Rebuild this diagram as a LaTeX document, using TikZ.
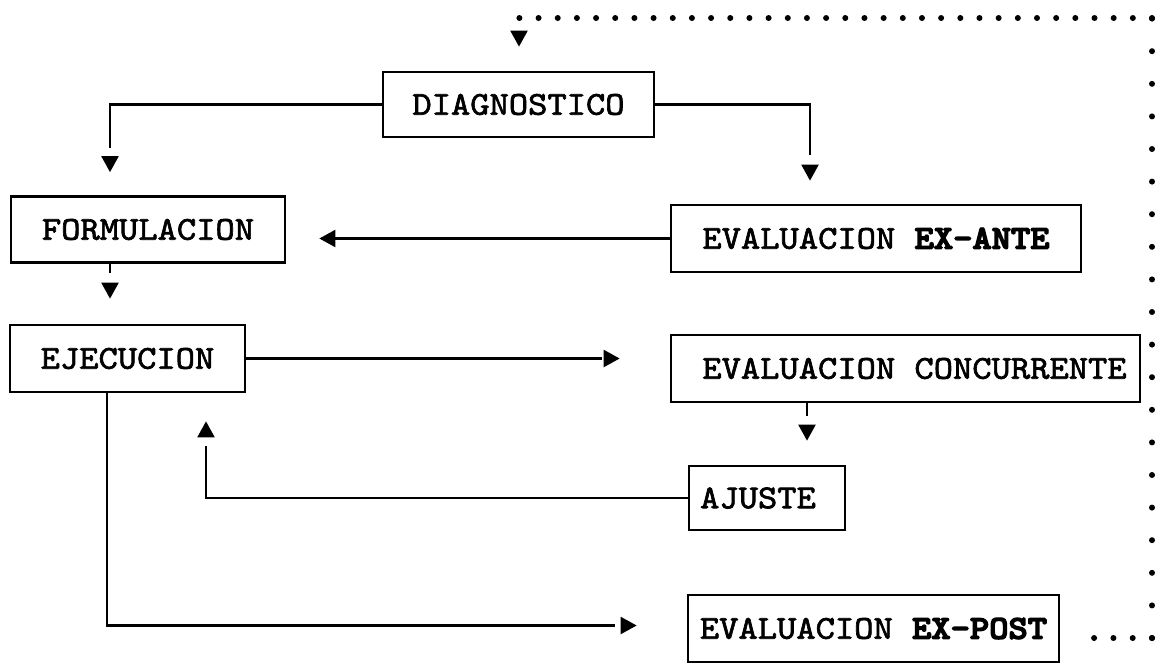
\documentclass[tikz,border=0pt]{standalone}
\usepackage{fontspec}
\usetikzlibrary{arrows.meta}
% typewriter faces for the box labels
\newfontface\twreg{lmmono10-regular.otf}[FakeStretch=1.1,FakeBold=2]
\newfontface\twbold{lmmonolt10-bold.otf}[FakeStretch=1.1,FakeBold=4]
\begin{document}
\begin{tikzpicture}[x=0.5pt,y=-0.5pt,
  box/.style={draw, line width=1.35pt, inner sep=0pt, align=center,
    font={\fontsize{16.7pt}{18pt}\selectfont\twreg}},
  wire/.style={line width=1.1pt},
  % #1: distance of the tip from its target, #2: end of the line before the tip
  arr/.style 2 args={wire, draw=white,
    -{Triangle[length=8pt,width=8.5pt,color=black]}, shorten >=#1,
    postaction={draw=black, arrows=-, shorten >=#2}},
  tiponly/.style={wire, -{Triangle[length=8pt,width=8.5pt]}},
  dotrow/.style={line width=3pt, line cap=round, dash pattern=on 0pt off 9.65pt},
  dottop/.style={line width=3pt, line cap=round, dash pattern=on 0pt off 9.585pt},
  dotcol/.style={line width=3pt, line cap=round, dash pattern=on 0pt off 16.3pt},
]
\fill[white] (0,0) rectangle (1156,665);
\useasboundingbox (0,0) rectangle (1156,665);

% boxes
\node[box, minimum width=135.5pt, minimum height=32.5pt] (diag)   at (518.5,104.5) {DIAGNOSTICO};
\node[box, minimum width=137pt,   minimum height=33pt]   (form)   at (148,229.5)   {FORMULACION};
\node[box, minimum width=205pt,   minimum height=33.5pt] (exante) at (876,238.5)   {EVALUACION {\twbold EX-ANTE}};
\node[box, minimum width=117.5pt, minimum height=33.5pt] (ejec)   at (127.5,358.5) {EJECUCION};
\node[box, minimum width=234.5pt, minimum height=33.5pt] (conc)   at (905.5,368.5) {\hspace{9pt}EVALUACION CONCURRENTE};
\node[box, minimum width=78pt,    minimum height=32pt]   (ajuste) at (767,498)     {AJUSTE\hspace{9pt}};
\node[box, minimum width=185.5pt, minimum height=33.5pt] (expost) at (873.5,628.5) {EVALUACION {\twbold EX-POST}};

% connectors
\draw[arr={11.5pt}{23.5pt}] (diag.west) -| ([xshift=-19pt]form.north);
\draw[arr={11.5pt}{24.5pt}] (diag.east) -| ([xshift=-33pt]exante.north);
\draw[arr={16.5pt}{24.5pt}] (exante.west) -- (exante.west -| form.east);
\draw[arr={12.5pt}{25.5pt}] ([xshift=-19pt]form.south) -- ([xshift=-19pt]form.south |- ejec.north);
\draw[arr={25pt}{34pt}]     (ejec.east) -- (ejec.east -| conc.west);
\draw[arr={12pt}{24.5pt}]   ([xshift=-49.25pt]conc.south) -- ([xshift=-49.25pt]conc.south |- ajuste.north);
\draw[arr={14pt}{26.5pt}]   (ajuste.west) -| ([xshift=39.25pt]ejec.south);
\draw[arr={25pt}{36pt}]     ([xshift=-10.25pt]ejec.south) |- ([yshift=1.5pt]expost.west);

% dotted feedback loop from EX-POST back to DIAGNOSTICO
\coordinate (loopA) at (1152,638);
\coordinate (loopB) at (1152,18);
\coordinate (loopC) at (519,18);
\draw[dotrow] (loopA) -- ([xshift=7.5pt]expost.east |- loopA);
\draw[dotcol] (loopA) -- (loopB);
\draw[dottop] (loopB) -- (loopC);
\draw[tiponly, shorten <=7pt, shorten >=12pt] (loopC) -- (loopC |- diag.north);
\end{tikzpicture}
\end{document}
